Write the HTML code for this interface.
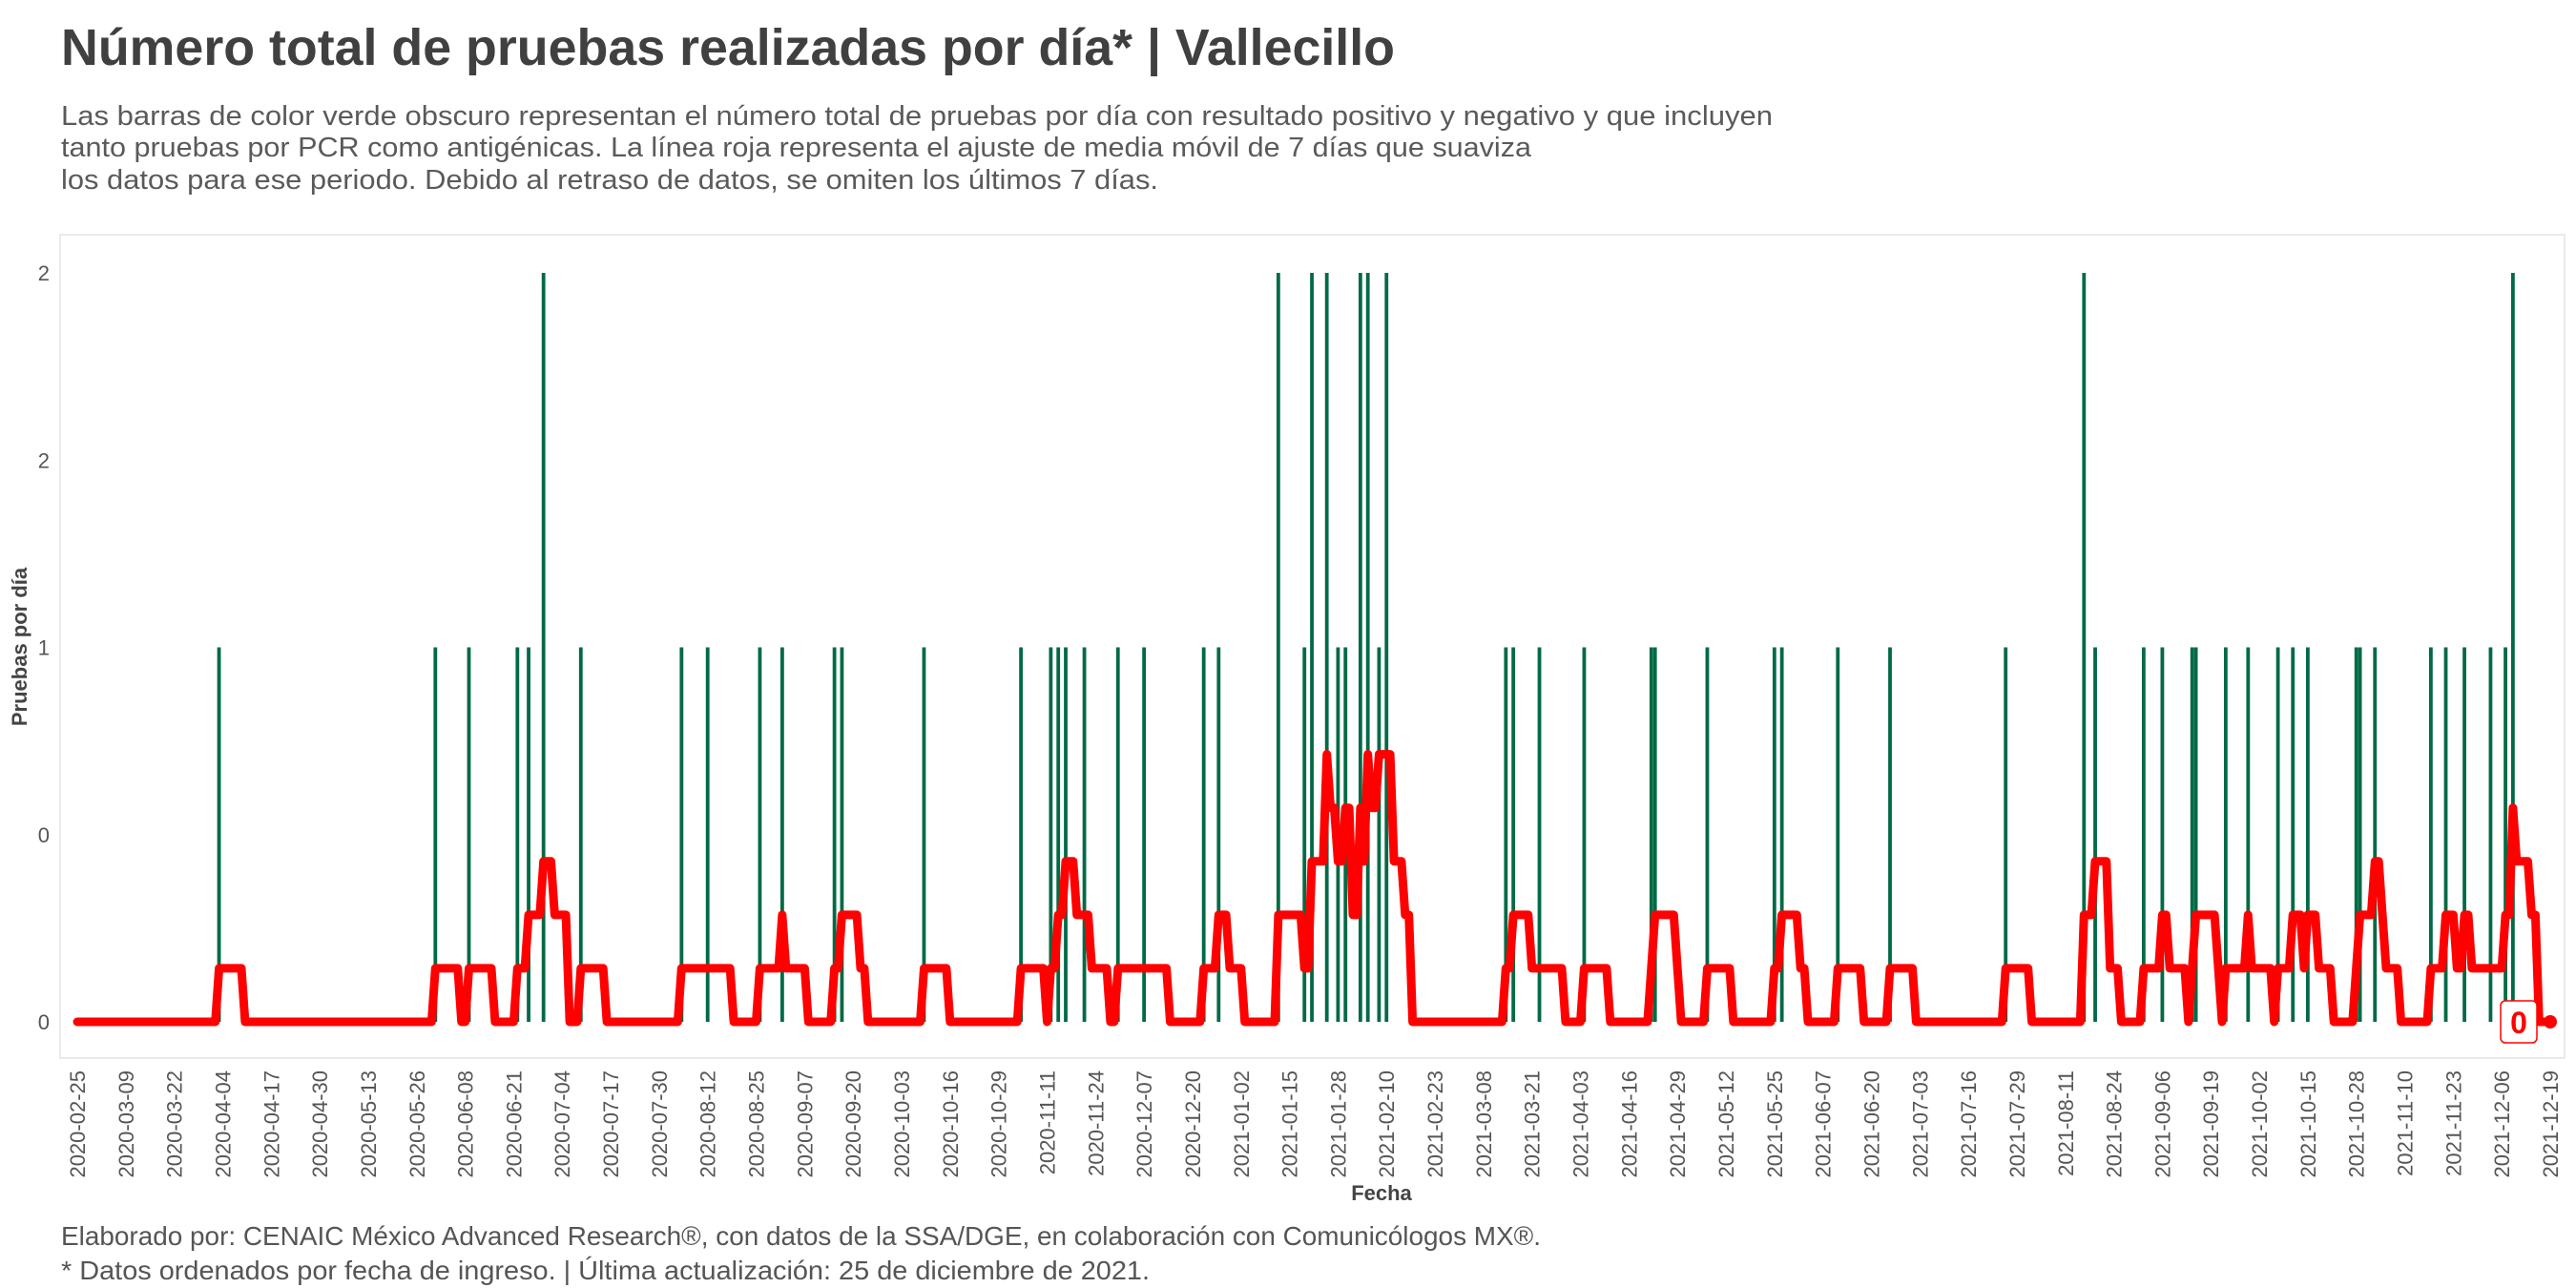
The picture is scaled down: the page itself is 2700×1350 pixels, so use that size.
<!DOCTYPE html>
<html><head><meta charset="utf-8"><style>
html,body{margin:0;padding:0;background:#fff;}
svg{display:block;font-family:"Liberation Sans",sans-serif;}
</style></head><body>
<svg id="chart" width="2700" height="1350" viewBox="0 0 2700 1350" xmlns="http://www.w3.org/2000/svg">
<rect x="0" y="0" width="2700" height="1350" fill="#fff"/>
<text x="64" y="68" font-size="54" font-weight="bold" fill="#404040" textLength="1398" lengthAdjust="spacingAndGlyphs">Número total de pruebas realizadas por día* | Vallecillo</text>
<g font-size="29" fill="#5a5a5a">
<text x="64" y="131" textLength="1794" lengthAdjust="spacingAndGlyphs">Las barras de color verde obscuro representan el número total de pruebas por día con resultado positivo y negativo y que incluyen</text>
<text x="64" y="164" textLength="1541" lengthAdjust="spacingAndGlyphs">tanto pruebas por PCR como antigénicas. La línea roja representa el ajuste de media móvil de 7 días que suaviza</text>
<text x="64" y="198" textLength="1150" lengthAdjust="spacingAndGlyphs">los datos para ese periodo. Debido al retraso de datos, se omiten los últimos 7 días.</text>
</g>
<rect x="63" y="246" width="2625" height="863" fill="none" stroke="#e3e3e3" stroke-width="1.5"/>
<g id="yaxis"></g>
<g id="xaxis"></g>
<g id="bars"></g>
<g id="line"></g>
<text transform="translate(28,678) rotate(-90)" text-anchor="middle" font-size="22" font-weight="bold" fill="#444">Pruebas por día</text>
<text x="1448" y="1258" text-anchor="middle" font-size="22" font-weight="bold" fill="#444">Fecha</text>
<g font-size="28" fill="#555">
<text x="64" y="1305" textLength="1551" lengthAdjust="spacingAndGlyphs">Elaborado por: CENAIC México Advanced Research®, con datos de la SSA/DGE, en colaboración con Comunicólogos MX®.</text>
<text x="64" y="1341" textLength="1141" lengthAdjust="spacingAndGlyphs">* Datos ordenados por fecha de ingreso. | Última actualización: 25 de diciembre de 2021.</text>
</g>
</svg>
<script>
const barDates = ["2020-04-03","2020-05-31","2020-06-09","2020-06-22","2020-06-25","2020-06-29","2020-07-09","2020-08-05","2020-08-12","2020-08-26","2020-09-01","2020-09-15","2020-09-17","2020-10-09","2020-11-04","2020-11-12","2020-11-14","2020-11-16","2020-11-21","2020-11-30","2020-12-07","2020-12-23","2020-12-27","2021-01-12","2021-01-19","2021-01-21","2021-01-25","2021-01-28","2021-01-30","2021-02-03","2021-02-05","2021-02-08","2021-02-10","2021-03-14","2021-03-16","2021-03-23","2021-04-04","2021-04-22","2021-04-23","2021-05-07","2021-05-25","2021-05-27","2021-06-11","2021-06-25","2021-07-26","2021-08-16","2021-08-19","2021-09-01","2021-09-06","2021-09-14","2021-09-15","2021-09-23","2021-09-29","2021-10-07","2021-10-11","2021-10-15","2021-10-28","2021-10-29","2021-11-02","2021-11-17","2021-11-21","2021-11-26","2021-12-03","2021-12-07","2021-12-09"];
const barValues = [1,1,1,1,1,2,1,1,1,1,1,1,1,1,1,1,1,1,1,1,1,1,1,2,1,2,2,1,1,2,2,1,2,1,1,1,1,1,1,1,1,1,1,1,1,2,1,1,1,1,1,1,1,1,1,1,1,1,1,1,1,1,1,1,2];
const startDate = "2020-02-25";
const lastAvgDate = "2021-12-15";
const endDate = "2021-12-19";
const endLabel = "0";
const yTicks = [0,0.5,1,1.5,2];
const yTickLabels = ["0","0","1","2","2"];
const tickStepDays = 13;

const NS="http://www.w3.org/2000/svg";
const DAY=86400000;
const t0=Date.parse(startDate+"T00:00:00Z");
const dayOf=s=>Math.round((Date.parse(s+"T00:00:00Z")-t0)/DAY);
const nDays=dayOf(endDate);
const x=d=>81+d*(2673-81)/nDays;
const y=v=>1071-v*392.5;
function mk(tag,attrs,parent){const e=document.createElementNS(NS,tag);for(const k in attrs)e.setAttribute(k,attrs[k]);parent.appendChild(e);return e;}

const ya=document.getElementById('yaxis');
yTicks.forEach((v,i)=>{
  const t=mk('text',{x:52,y:y(v)+8,'text-anchor':'end','font-size':22,fill:'#555'},ya);
  
  
  t.textContent=yTickLabels[i];
});
const xa=document.getElementById('xaxis');
for(let d=0;d<=nDays;d+=tickStepDays){
  const dt=new Date(t0+d*DAY).toISOString().slice(0,10);
  const t=mk('text',{transform:`translate(${x(d)+8},1122) rotate(-90)`,'text-anchor':'end','font-size':22,fill:'#555'},xa);
  
  
  t.textContent=dt;
}
const bg=document.getElementById('bars');
const daily=new Array(nDays+1).fill(0);
barDates.forEach((s,i)=>{
  const d=dayOf(s);daily[d]+=barValues[i];
  const r=mk('rect',{x:x(d)-1.9,y:y(barValues[i]),width:3.8,height:y(0)-y(barValues[i]),fill:'#006a45'},bg);
  
  
});
const lastD=dayOf(lastAvgDate);
const pts=[];
for(let d=0;d<=lastD;d++){let s=0;for(let k=d-6;k<=d;k++)if(k>=0)s+=daily[k];pts.push([x(d),y(s/7)]);}
pts.push([x(lastD+1),y(0)]);pts.push([x(nDays),y(0)]);
const lg=document.getElementById('line');
const pl=mk('polyline',{points:pts.map(p=>p[0].toFixed(1)+','+p[1].toFixed(1)).join(' '),fill:'none',stroke:'#ff0000','stroke-width':9,'stroke-linejoin':'round','stroke-linecap':'round'},lg);


const dot=mk('circle',{cx:x(nDays),cy:y(0),r:7,fill:'#ff0000'},lg);


const lb=mk('rect',{x:x(nDays)-52,y:y(0)-22,width:38,height:44,rx:5,fill:'#fff',stroke:'#ff0000','stroke-width':1.5},lg);


const lt=mk('text',{x:x(nDays)-33,y:y(0)+12,'text-anchor':'middle','font-size':32,'font-weight':'bold',fill:'#ff0000'},lg);


lt.textContent=endLabel;
</script>
</body></html>
